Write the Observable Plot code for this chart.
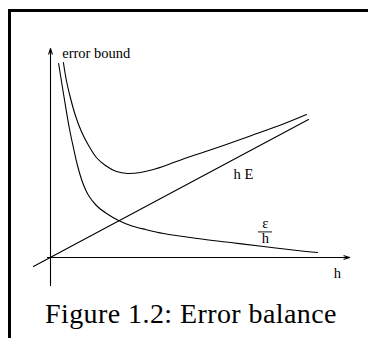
<!DOCTYPE html>
<html>
<head>
<meta charset="utf-8">
<script src="https://cdn.jsdelivr.net/npm/d3@7"></script>
<script src="https://cdn.jsdelivr.net/npm/@observablehq/plot@0.6"></script>
<style>
  html, body { margin: 0; padding: 0; background: #fff; }
  #page { position: relative; width: 368px; height: 338px; overflow: hidden; }
  #frame { position: absolute; left: 8px; top: 9px; width: 400px; height: 400px;
           border-top: 3px solid #000; border-left: 3px solid #000; }
  #chart { position: absolute; left: 0; top: 0; }
  #chart svg { overflow: visible; }
  #caption { position: absolute; left: 45px; top: 299.5px; white-space: nowrap; color: #000;
             font-family: "Liberation Serif", serif; font-size: 28px; line-height: 28px;
             letter-spacing: 0.42px; }
</style>
</head>
<body>
<div id="page">
  <div id="frame"></div>
  <div id="chart"></div>
  <div id="caption">Figure 1.2: Error balance</div>
</div>
<script>
// Total error bound: truncation plus rounding
const boundH     = [4.3, 5.3, 6.7, 8.3, 10.3, 12.7, 15.3, 18.3, 22.0, 25.7, 30.0, 34.3, 39.3, 44.7, 55.7, 67.0, 78.0, 85.3];
const boundValue = [97.5, 88.5, 79.5, 71.0, 63.0, 56.0, 50.0, 46.0, 43.0, 42.0, 42.5, 44.0, 46.5, 49.5, 55.0, 61.0, 67.0, 71.5];

// Rounding part, eps / h
const roundH     = [2.7, 4.7, 6.3, 7.7, 9.0, 10.7, 12.7, 15.3, 18.7, 22.7, 26.7, 31.7, 37.7, 49.0, 60.0, 71.0, 82.3, 89.0];
const roundValue = [97.0, 78.5, 64.5, 54.5, 46.0, 37.5, 31.0, 26.0, 22.0, 18.5, 16.0, 14.0, 12.0, 9.5, 7.5, 5.5, 3.5, 2.5];

// Truncation part, h E (a straight line)
const truncH     = [-5.7, 86.0];
const truncValue = [-4.5, 69.0];

// Axis extents
const axisH     = [-1, 99.7];
const axisValue = [-14, 104.5];

// Labels set from their left edge, and the centred fraction eps / h
const leftLabels = [
  {text: "error bound", h: 3.9,  v: 100.0},
  {text: "h E",         h: 61.0, v: 39.5},
  {text: "h",           h: 94.4, v: -10.0}
];
const fracLabels = [
  {text: "ε", h: 71.6, v: 14.8},
  {text: "h", h: 71.6, v: 7.5}
];
const fracBarH = [69.3, 74.0];
const fracBarV = 12.8;

const pts = (xs, ys) => xs.map((h, i) => ({h, v: ys[i]}));
const ink = {stroke: "black", strokeWidth: 1.1};
const labelFont = {fontFamily: "Liberation Serif", fontSize: 14.5, fill: "black", lineAnchor: "bottom"};

const chart = Plot.plot({
  width: 368,
  height: 300,
  margin: 0,
  x: {domain: [0, 100], range: [50, 350], axis: null},
  y: {domain: [0, 105], range: [257, 47], axis: null},
  style: {background: "transparent"},
  marks: [
    Plot.arrow([{x1: axisH[0], y1: 0, x2: axisH[1], y2: 0}],
      {x1: "x1", y1: "y1", x2: "x2", y2: "y2", ...ink, headLength: 8, headAngle: 36}),
    Plot.arrow([{x1: 0, y1: axisValue[0], x2: 0, y2: axisValue[1]}],
      {x1: "x1", y1: "y1", x2: "x2", y2: "y2", ...ink, headLength: 8, headAngle: 36}),
    Plot.line(pts(truncH, truncValue), {x: "h", y: "v", ...ink}),
    Plot.line(pts(roundH, roundValue), {x: "h", y: "v", ...ink, curve: "catmull-rom"}),
    Plot.line(pts(boundH, boundValue), {x: "h", y: "v", ...ink, curve: "catmull-rom"}),
    Plot.ruleY([{v: fracBarV, h1: fracBarH[0], h2: fracBarH[1]}],
      {y: "v", x1: "h1", x2: "h2", stroke: "black", strokeWidth: 0.9}),
    Plot.text(leftLabels, {x: "h", y: "v", text: "text", textAnchor: "start", ...labelFont}),
    Plot.text(fracLabels, {x: "h", y: "v", text: "text", textAnchor: "middle", ...labelFont})
  ]
});
document.getElementById("chart").appendChild(chart);
</script>
</body>
</html>
